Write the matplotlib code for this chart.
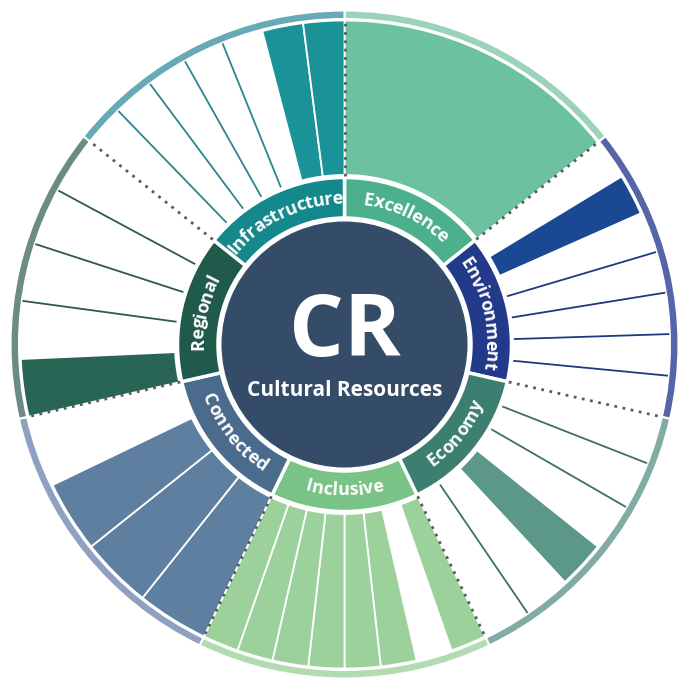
import numpy as np
import matplotlib
matplotlib.use("Agg")
import matplotlib.pyplot as plt
from matplotlib.font_manager import FontProperties

# ---------------- data ----------------
categories = ["Excellence", "Environment", "Economy", "Inclusive",
              "Connected", "Regional", "Infrastructure"]
# 1 = filled sub-segment, 0 = empty sub-segment (clockwise order)
excellence_items = [1]
environment_items = [0, 1, 0, 0, 0, 0, 0]
economy_items = [0, 0, 0, 1, 0, 0]
inclusive_items = [1, 0, 1, 1, 1, 1, 1, 1]
connected_items = [1, 1, 1, 0]
regional_items = [1, 0, 0, 0, 0]
infrastructure_items = [0, 0, 0, 0, 0, 1, 1]
sub_items = [excellence_items, environment_items, economy_items, inclusive_items,
             connected_items, regional_items, infrastructure_items]

center_title = "CR"
center_subtitle = "Cultural Resources"

# ---------------- styles ----------------
ring_colors = ["#4cb08d", "#23398a", "#3c7f70", "#79c387", "#4a6b8c", "#1f5a4b", "#15888c"]
wedge_colors = ["#6cc19f", "#1b4893", "#5c988a", "#9cd19c", "#5e7f9f", "#296555", "#1a9398"]
rim_colors = ["#9bd2ba", "#5565a8", "#82aba3", "#b2dbb2", "#8fa1bf", "#6b8b84", "#67a9b7"]
sep_colors = ["#4cb08d", "#1f3a7c", "#3f6f66", "#79c387", "#4a6b8c", "#2c5a50", "#2a878d"]
center_color = "#344c68"
dot_color = "#585c60"

R_CENTER = 123.0
R_RING0, R_RING1 = 126.5, 167.0
R_W0, R_W1 = 169.5, 324.0
R_RIM0, R_RIM1 = 325.5, 334.0
R_TEXT = 146.0

fig = plt.figure(figsize=(6.89, 6.89), dpi=100)
ax = fig.add_axes([0, 0, 1, 1], projection="polar")
ax.set_theta_zero_location("N")
ax.set_theta_direction(-1)
ax.set_ylim(0, 344.5)
ax.set_axis_off()

n = len(categories)
span = 2 * np.pi / n

# centre disc
ax.bar(0, R_CENTER, width=2 * np.pi, bottom=0, color=center_color,
       edgecolor="none", align="center")

for i, cat in enumerate(categories):
    start = i * span
    mid = start + span / 2
    # category ring
    ax.bar(mid, R_RING1 - R_RING0, width=span, bottom=R_RING0,
           color=ring_colors[i], edgecolor="white", linewidth=2.5)
    # outer rim
    ax.bar(mid, R_RIM1 - R_RIM0, width=span, bottom=R_RIM0,
           color=rim_colors[i], edgecolor="white", linewidth=1.5)
    subs = sub_items[i]
    k = len(subs)
    sw = span / k
    for j, f in enumerate(subs):
        if f:
            ax.bar(start + (j + 0.5) * sw, R_W1 - R_W0, width=sw, bottom=R_W0,
                   color=wedge_colors[i], edgecolor="white", linewidth=1.3)
    for j in range(1, k):
        if not (subs[j - 1] or subs[j]):
            th = start + j * sw
            ax.plot([th, th], [R_W0, R_RIM0 - 0.5], color=sep_colors[i],
                    lw=1.3, solid_capstyle="butt")

# dotted category boundaries
for i in range(n):
    th = i * span
    ax.plot([th, th], [R_W0 - 1, R_RIM0], color=dot_color, lw=2.0,
            linestyle=(0, (1, 2)), dash_capstyle="butt")

# curved labels
fig.canvas.draw()
renderer = fig.canvas.get_renderer()
fp = FontProperties(family=["Open Sans", "DejaVu Sans"], weight="bold", size=13)


def text_width(s):
    if s == "":
        return 0.0
    w, h, d = renderer.get_text_width_height_descent(s, fp, ismath=False)
    return w


for i, cat in enumerate(categories):
    mid = i * span + span / 2
    mid_deg = np.degrees(mid)
    outward = (mid_deg < 90) or (mid_deg > 270)
    total = text_width(cat)
    for c_i, ch in enumerate(cat):
        w0 = text_width(cat[:c_i])
        w1 = text_width(cat[:c_i + 1])
        cpos = (w0 + w1) / 2 - total / 2
        dth = cpos / R_TEXT
        if outward:
            th = mid + dth
            rot = -np.degrees(th)
        else:
            th = mid - dth
            rot = 180 - np.degrees(th)
        ax.text(th, R_TEXT, ch, fontproperties=fp, color="white",
                rotation=rot, rotation_mode="anchor", ha="center", va="center")

# centre text
fig.text(0.5, 1 - 333 / 689, center_title, color="white", ha="center", va="center",
         fontsize=62, fontweight="bold", family=["Open Sans", "DejaVu Sans"])
fig.text(0.5, 1 - 391 / 689, center_subtitle, color="white", ha="center", va="center",
         fontsize=15, fontweight="bold", family=["Open Sans", "DejaVu Sans"])

fig.savefig("out.png", dpi=100, facecolor="white")
